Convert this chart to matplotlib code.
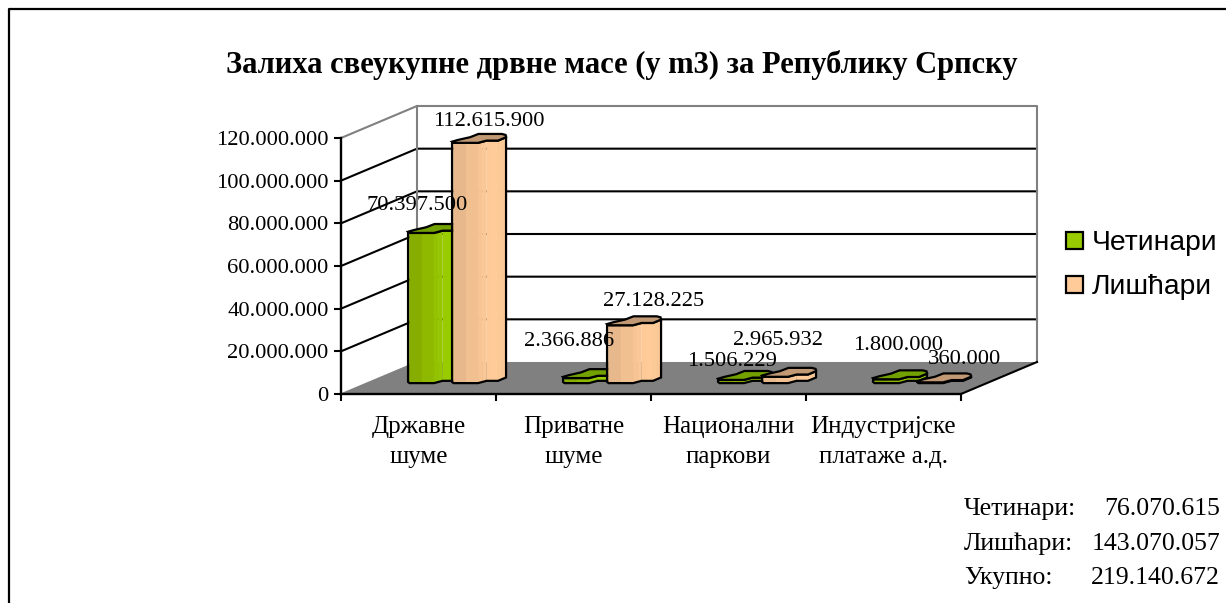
#!/usr/bin/python
import numpy as np

import matplotlib
matplotlib.use('Agg')
from matplotlib import pyplot as plt
from matplotlib.patches import Polygon, Rectangle

#-------------------------------------------------

title = 'Залиха свеукупне дрвне масе (у m3) за Републику Српску'
categories = ['Државне\nшуме', 'Приватне\nшуме', 'Национални\nпаркови', 'Индустријске\nплатаже а.д.']
series = ['Четинари', 'Лишћари']
cetinari = [70397500, 2366886, 1506229, 1800000]
liscari = [112615900, 27128225, 2965932, 360000]
yticks = [0, 20000000, 40000000, 60000000, 80000000, 100000000, 120000000]
summary_names = ['Четинари:', 'Лишћари:', 'Укупно:']
summary_values = ['76.070.615', '143.070.057', '219.140.672']

#-------------------------------------------------

W, H = 1226., 603.
GREEN = ((0.51, 0.65, 0.0), (0.60, 0.80, 0.0), (0.45, 0.63, 0.0))
PEACH = ((0.88, 0.70, 0.53), (1.0, 0.80, 0.60), (0.76, 0.60, 0.46))

plt.rcParams['font.family'] = ['Liberation Serif', 'DejaVu Serif']

fig = plt.figure(figsize=(W/100, H/100), dpi=100)
ax = fig.add_axes([341/W, 1-394/H, 620/W, 256/H])
ax.set_xlim(0, 4)
ax.set_ylim(0, 120000000)

### depth of the 3d box in data units
DX = 76/155.
DY = 32*120000000/256.

def proj( x, y, d ):
    return x+d*DX, y+d*DY

def money( v ):
    return '{:,}'.format(v).replace(',', '.')

### walls and floor
floor = [proj(0, 0, 0), proj(4, 0, 0), proj(4, 0, 1), proj(0, 0, 1)]
ax.add_patch(Polygon(floor, facecolor='#808080', edgecolor='none', clip_on=False, zorder=1))

for t in yticks[1:-1]:
    ax.plot(*zip(proj(0, t, 0), proj(0, t, 1), proj(4, t, 1)), color='k', lw=1.5, clip_on=False, zorder=1)
top = yticks[-1]
ax.plot(*zip(proj(0, top, 0), proj(0, top, 1), proj(4, top, 1), proj(4, 0, 1)), color='#808080', lw=1.5, clip_on=False, zorder=1)
ax.plot(*zip(proj(0, 0, 1), proj(0, top, 1)), color='#808080', lw=1.5, clip_on=False, zorder=1)
ax.plot(*zip(proj(0, 0, 0), proj(0, 0, 1)), color='#808080', lw=1, clip_on=False, zorder=1)
ax.plot(*zip(proj(4, 0, 0), proj(4, 0, 1)), color='k', lw=1.5, clip_on=False, zorder=1)

### lumpy cylinder, as the spreadsheet draws it
BAR_W = 31/155.
D0, D1 = 0.34, 0.65
RING = [(-.09, .12), (.05, 0), (.84, 0), (.94, .23), (1.31, .23), (1.31, .57),
        (1.12, .80), (.92, .90), (.17, .90), (.15, .57), (-.03, .30)]
FRONT = 6  ### first points of RING, left-most to right-most

def cylinder( x0, val, cols, z ):
    ring = [(x0+u*BAR_W, D0+v*(D1-D0)) for u, v in RING]
    low = [proj(x, 0, d) for x, d in ring]
    up = [proj(x, val, d) for x, d in ring]

    x_a, x_b = low[0][0], low[FRONT-1][0]
    for a in range(FRONT-1):
        xs = np.linspace(low[a][0], low[a+1][0], 3)
        ys = np.linspace(low[a][1], low[a+1][1], 3)
        for i in range(2):
            f = ((xs[i]+xs[i+1])/2-x_a)/(x_b-x_a)
            g = min(f*1.4, 1) if f < .8 else 1-(f-.8)
            c = tuple(np.array(cols[0])+(np.array(cols[1])-np.array(cols[0]))*g)
            ax.add_patch(Polygon([(xs[i], ys[i]), (xs[i+1], ys[i+1]),
                                  (xs[i+1], ys[i+1]+val), (xs[i], ys[i]+val)],
                                 facecolor=c, edgecolor=c, lw=0.3, clip_on=False, zorder=z))
    outline = low[:FRONT]+up[:FRONT][::-1]
    ax.add_patch(Polygon(outline, facecolor='none', edgecolor='k', lw=1.6, clip_on=False, zorder=z+0.1))
    ax.add_patch(Polygon(up, facecolor=cols[2], edgecolor='k', lw=1.6, clip_on=False, zorder=z+0.2))

### label offsets in pixels, labels were placed by hand in the original
OFF_GREEN = [(-18, 22), (-21, 32), (-13, 13), (-2, 29)]
OFF_PEACH = [(10, 16), (19, 19), (-11, 31), (20, 18)]

for i in range(len(categories)):
    x0 = i+0.2656
    x1 = x0+44/155.
    cylinder(x0, cetinari[i], GREEN, 3+i)
    cylinder(x1, liscari[i], PEACH, 3.5+i)

    for x, val, off in [(x0, cetinari[i], OFF_GREEN[i]), (x1, liscari[i], OFF_PEACH[i])]:
        ax.annotate(money(val), xy=proj(x+BAR_W/2, val, (D0+D1)/2), xytext=(off[0]*.72, off[1]*.72),
                    textcoords='offset points', ha='center', va='center', fontsize=16.2,
                    color='k', zorder=10, annotation_clip=False)

### axes
for s in ['top', 'right']:
    ax.spines[s].set_visible(False)
ax.patch.set_alpha(0)
for s in ['left', 'bottom']:
    ax.spines[s].set_linewidth(1.7)
    ax.spines[s].set_zorder(2)
ax.set_yticks(yticks)
ax.set_yticklabels([money(t) for t in yticks], fontsize=16.2)
ax.set_xticks(range(5))
ax.set_xticklabels([])
ax.tick_params(length=5, width=1.5, color='k', pad=4)
for i, c in enumerate(categories):
    ax.annotate(c, xy=(i+.5, 0), xytext=(0, -15.5), textcoords='offset points', ha='center', va='top',
                fontsize=18, linespacing=1.5, annotation_clip=False)

### frame, only left and top show in the original
fig.add_artist(plt.Line2D([9/W, 9/W, 1.], [0., 1-9/H, 1-9/H], color='k', lw=1.6))

fig.text(622/W, 1-64.5/H, title, ha='center', va='center', fontsize=22, fontweight='bold')

### legend
for name, col, y in zip(series, [GREEN[1], PEACH[1]], [241, 284.5]):
    fig.add_artist(Rectangle((1066/W, 1-(y+8.5)/H), 17/W, 17/H, transform=fig.transFigure,
                             facecolor=col, edgecolor='k', lw=1.6))
    fig.text(1092/W, 1-(y+2)/H, name, ha='left', va='center', fontsize=20.3, family='Liberation Sans')

### totals
for name, val, y in zip(summary_names, summary_values, [509, 543.5, 578]):
    fig.text(964/W, 1-y/H, name, ha='left', va='center', fontsize=18.5)
    fig.text(1220/W, 1-y/H, val, ha='right', va='center', fontsize=18.5)

fig.savefig('out.png', dpi=100)
plt.close(fig)
